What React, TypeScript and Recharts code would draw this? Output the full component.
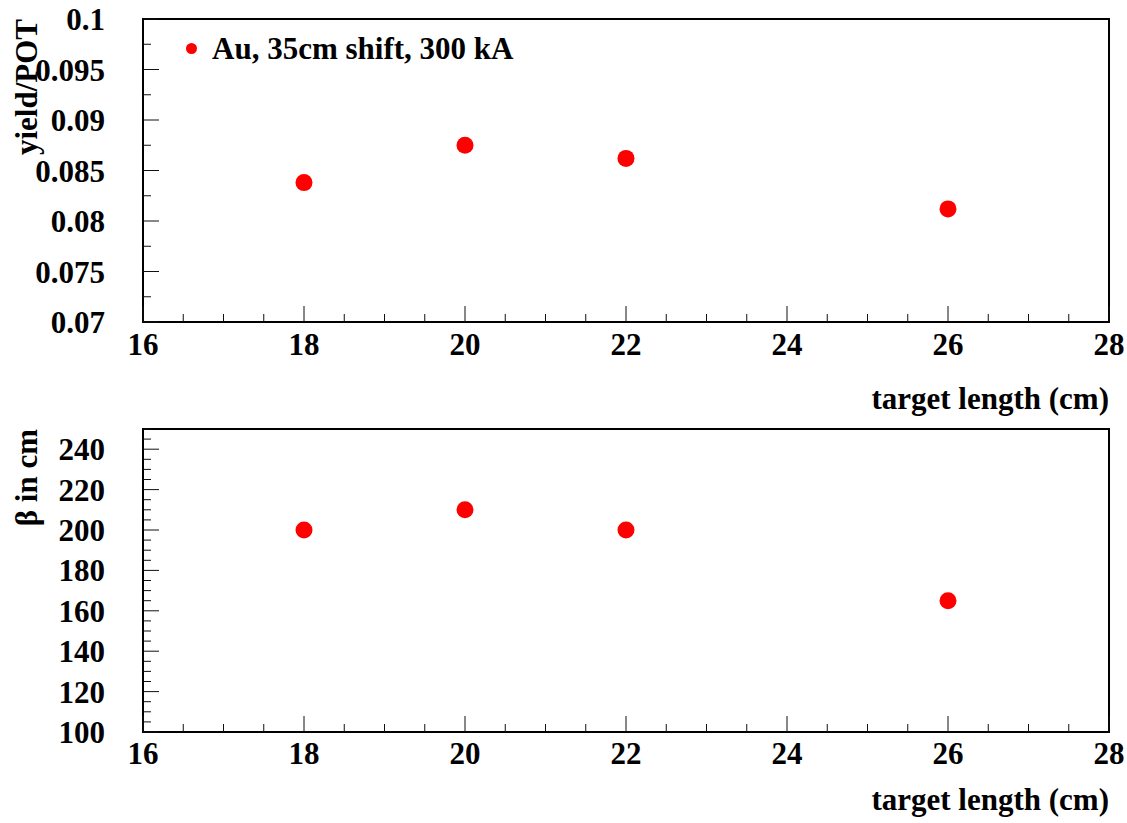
import React from "react";
import {
  ScatterChart,
  Scatter,
  XAxis,
  YAxis,
  ReferenceArea,
  Label,
} from "recharts";

// target lengths (cm) shared by both panels
const targetLengths = [18, 20, 22, 26];
// top panel: yield per proton on target
const yieldPerPot = [0.0838, 0.0875, 0.0862, 0.0812];
// bottom panel: beta function in cm
const betaCm = [200, 210, 200, 165];

const legendLabel = "Au, 35cm shift, 300 kA";
const xTitle = "target length (cm)";

const xMajors = [16, 18, 20, 22, 24, 26, 28];
const yieldMajors = [0.07, 0.075, 0.08, 0.085, 0.09, 0.095, 0.1];
const betaMajors = [100, 120, 140, 160, 180, 200, 220, 240];

const FONT = '"Liberation Serif", "Times New Roman", serif';
const FS = 31;
const W = 1127;

// split every major interval into n parts (minor ticks)
const subdivide = (majors: number[], n: number, max?: number) => {
  const out: number[] = [];
  for (let i = 0; i < majors.length - 1; i++) {
    const step = (majors[i + 1] - majors[i]) / n;
    for (let k = 0; k < n; k++) out.push(majors[i] + k * step);
  }
  const last = majors[majors.length - 1];
  out.push(last);
  if (max !== undefined) {
    const step = (majors[1] - majors[0]) / n;
    for (let v = last + step; v <= max + 1e-9; v += step) out.push(v);
  }
  return out;
};

const isMajor = (v: number, majors: number[]) =>
  majors.some((m) => Math.abs(m - v) < 1e-9);

const renderXTick = (labelDy: number) => (props: any) => {
  const { x, y, payload } = props;
  const major = isMajor(payload.value, xMajors);
  return (
    <g>
      <line x1={x} x2={x} y1={y} y2={y - (major ? 16 : 8)} stroke="#111" strokeWidth={1} />
      {major && (
        <text x={x} y={y + labelDy} textAnchor="middle" fontFamily={FONT} fontWeight="bold" fontSize={FS} fill="#000">
          {payload.value}
        </text>
      )}
    </g>
  );
};

const renderYTick = (majors: number[]) => (props: any) => {
  const { x, y, payload } = props;
  const major = isMajor(payload.value, majors);
  return (
    <g>
      <line x1={x} x2={x + (major ? 16 : 8)} y1={y} y2={y} stroke="#111" strokeWidth={1} />
      {major && (
        <text x={x - 38} y={y + 11} textAnchor="end" fontFamily={FONT} fontWeight="bold" fontSize={FS} fill="#000">
          {String(payload.value)}
        </text>
      )}
    </g>
  );
};

const XTitle = (gap: number) => (props: any) => {
  const vb = props.viewBox;
  return (
    <text x={vb.x + vb.width} y={vb.y + gap} textAnchor="end" fontFamily={FONT} fontWeight="bold" fontSize={FS} fill="#000">
      {xTitle}
    </text>
  );
};

const YTitle = (text: string) => (props: any) => {
  const vb = props.viewBox;
  const tx = 37;
  const ty = vb.y;
  return (
    <text
      x={tx}
      y={ty}
      transform={`rotate(-90 ${tx} ${ty})`}
      textAnchor="end"
      fontFamily={FONT}
      fontWeight="bold"
      fontSize={FS}
      fill="#000"
    >
      {text}
    </text>
  );
};

const Dot = (props: any) => <circle cx={props.cx} cy={props.cy} r={8.5} fill="#ff0000" />;

interface PanelProps {
  values: number[];
  yDomain: [number, number];
  yMajors: number[];
  yDivisions: number;
  yMinorMax?: number;
  yTitle: string;
  height: number;
  marginTop: number;
  marginBottom: number;
  titleGap: number;
  tickDy: number;
}

const Panel: React.FC<PanelProps> = ({
  values,
  yDomain,
  yMajors,
  yDivisions,
  yMinorMax,
  yTitle,
  height,
  marginTop,
  marginBottom,
  titleGap,
  tickDy,
}) => {
  const data = targetLengths.map((x, i) => ({ x, y: values[i] }));
  const xTicks = subdivide(xMajors, 4);
  const yTicks = subdivide(yMajors, yDivisions, yMinorMax);
  return (
    <ScatterChart
      width={W}
      height={height}
      margin={{ top: marginTop, right: 18, bottom: marginBottom, left: 83 }}
    >
      <XAxis
        type="number"
        dataKey="x"
        domain={[16, 28]}
        ticks={xTicks}
        interval={0}
        tickSize={0}
        tickMargin={0}
        axisLine={false}
        tickLine={false}
        height={30}
        tick={renderXTick(tickDy)}
      >
        <Label content={XTitle(titleGap)} />
      </XAxis>
      <YAxis
        type="number"
        dataKey="y"
        domain={yDomain}
        ticks={yTicks}
        interval={0}
        tickSize={0}
        tickMargin={0}
        axisLine={false}
        tickLine={false}
        width={60}
        tick={renderYTick(yMajors)}
      >
        <Label content={YTitle(yTitle)} />
      </YAxis>
      <ReferenceArea
        x1={16}
        x2={28}
        y1={yDomain[0]}
        y2={yDomain[1]}
        fill="none"
        fillOpacity={0}
        stroke="#000"
        strokeWidth={2}
      />
      <Scatter data={data} fill="#ff0000" shape={Dot} isAnimationActive={false} />
    </ScatterChart>
  );
};

export default function App() {
  return (
    <div style={{ position: "absolute", left: 0, top: 0, width: W, height: 823, background: "#fff" }}>
      <div style={{ position: "absolute", left: 0, top: 0 }}>
        <Panel
          values={yieldPerPot}
          yDomain={[0.07, 0.1]}
          yMajors={yieldMajors}
          yDivisions={2}
          yTitle="yield/POT"
          height={425}
          marginTop={19}
          marginBottom={73}
          titleGap={87}
          tickDy={33}
        />
      </div>
      <div style={{ position: "absolute", left: 0, top: 411 }}>
        <Panel
          values={betaCm}
          yDomain={[100, 250]}
          yMajors={betaMajors}
          yDivisions={4}
          yMinorMax={250}
          yTitle="β in cm"
          height={412}
          marginTop={18}
          marginBottom={61}
          titleGap={78}
          tickDy={32}
        />
      </div>
      <svg style={{ position: "absolute", left: 0, top: 0 }} width={560} height={80}>
        <circle cx={191.5} cy={48.5} r={5.5} fill="#ff0000" />
        <text x={212} y={59} fontFamily={FONT} fontWeight="bold" fontSize={FS} fill="#000">
          {legendLabel}
        </text>
      </svg>
    </div>
  );
}
